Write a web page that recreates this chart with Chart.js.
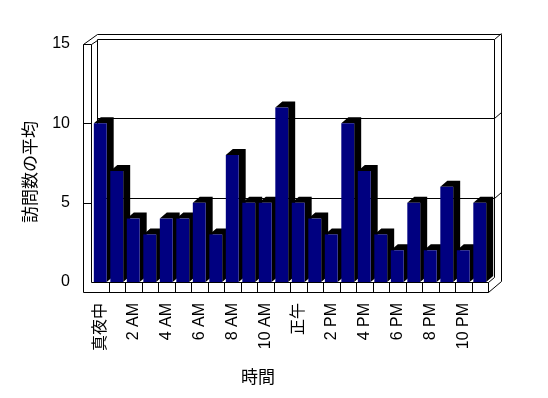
<!DOCTYPE html>
<html>
<head>
<meta charset="utf-8">
<script src="https://cdn.jsdelivr.net/npm/chart.js@4"></script>
<style>
  body { margin: 0; background: #fff; }
  canvas { display: block; }
</style>
</head>
<body>
<canvas id="chart" width="548" height="398"></canvas>
<script>
// hourly visit averages
const hours = ['真夜中', '1 AM', '2 AM', '3 AM', '4 AM', '5 AM', '6 AM', '7 AM', '8 AM', '9 AM', '10 AM', '11 AM',
  '正午', '1 PM', '2 PM', '3 PM', '4 PM', '5 PM', '6 PM', '7 PM', '8 PM', '9 PM', '10 PM', '11 PM'];
const visits = [10, 7, 4, 3, 4, 4, 5, 3, 8, 5, 5, 11, 5, 4, 3, 10, 7, 3, 2, 5, 2, 6, 2, 5];
const yTicks = [0, 5, 10, 15];
const xTitle = '時間';
const yTitle = '訪問数の平均';

const FONT = '"Liberation Sans", Arial, "Noto Sans CJK JP", sans-serif';
const DX = 7, DY = 6;   // bar depth

function px(v) { return Math.round(v) + 0.5; }

// walls, floor, gridlines and the dark sides of the bars
const frame3d = {
  id: 'frame3d',
  beforeDatasetsDraw(chart) {
    const ctx = chart.ctx, a = chart.chartArea, ys = chart.scales.y;
    const line = (x1, y1, x2, y2) => {
      ctx.beginPath();
      ctx.moveTo(px(x1), px(y1));
      ctx.lineTo(px(x2), px(y2));
      ctx.stroke();
    };
    const wallFront = a.left - 9, wallInner = a.left - 1, backLeft = a.left + 5;
    const backRight = a.right + 6, outerRight = a.right + 13;
    const floorBottom = a.bottom + 10, backTop = a.top - 10;

    ctx.save();
    ctx.strokeStyle = '#000';
    ctx.lineWidth = 1;

    // back wall gridlines
    yTicks.forEach(v => {
      const gy = ys.getPixelForValue(v) - 5;
      if (v > 0) {
        line(backLeft, gy, backRight, gy);
        line(backRight, gy, outerRight, gy - 6);
      }
      if (v > 0 && v < 15) {
        const fy = ys.getPixelForValue(v);
        line(wallFront, fy, wallInner, fy);
      }
    });

    // top edge
    line(backLeft, backTop, outerRight, backTop);
    line(wallFront, a.top, backLeft, backTop);
    line(wallFront, a.top, wallInner, a.top);
    line(wallInner, a.top, backLeft, a.top - 4);

    // left wall
    line(wallFront, a.top, wallFront, floorBottom);
    line(wallInner, a.top, wallInner, a.bottom);
    line(backLeft, a.top - 5, backLeft, a.bottom);

    // right wall
    line(backRight, a.top - 5, backRight, a.bottom - 5);
    line(outerRight, backTop, outerRight, a.bottom - 1);

    // floor
    line(wallFront, floorBottom, a.right, floorBottom);
    line(wallInner, a.bottom, a.right, a.bottom);
    line(a.right, a.bottom, a.right, floorBottom);
    line(a.right, floorBottom, outerRight, a.bottom - 1);
    line(a.right, a.bottom, backRight, a.bottom - 5);
    const step = (a.right - a.left) / hours.length;
    for (let k = 1; k < hours.length; k++) {
      const x = a.left + k * step;
      line(x, a.bottom, x, floorBottom);
    }

    // bar tops and sides
    ctx.fillStyle = '#000';
    chart.getDatasetMeta(0).data.forEach(bar => {
      const l = bar.x - bar.width / 2, r = bar.x + bar.width / 2;
      const t = bar.y, b = bar.base;
      ctx.beginPath();
      ctx.moveTo(l, t);
      ctx.lineTo(l + DX, t - DY);
      ctx.lineTo(r + DX, t - DY);
      ctx.lineTo(r + DX, b - DY);
      ctx.lineTo(r, b);
      ctx.lineTo(r, t);
      ctx.closePath();
      ctx.fill();
    });
    ctx.restore();
  },
  afterDraw(chart) {
    const ctx = chart.ctx;
    ctx.save();
    ctx.fillStyle = '#000';
    ctx.font = '17px "Noto Sans CJK JP", sans-serif';
    ctx.textAlign = 'center';
    ctx.textBaseline = 'middle';
    ctx.fillText(xTitle, 258, 377);
    ctx.translate(30, 172);
    ctx.rotate(-Math.PI / 2);
    ctx.fillText(yTitle, 0, 0);
    ctx.restore();
  }
};

new Chart(document.getElementById('chart'), {
  type: 'bar',
  data: {
    labels: hours,
    datasets: [{
      data: visits,
      backgroundColor: '#000080',
      borderWidth: 0,
      barPercentage: 0.78,
      categoryPercentage: 1
    }]
  },
  options: {
    responsive: false,
    animation: false,
    layout: { padding: { top: 44, right: 60, left: 0, bottom: 0 } },
    plugins: { legend: { display: false }, tooltip: { enabled: false } },
    scales: {
      x: {
        grid: { display: false, drawTicks: false },
        border: { display: false },
        afterFit(scale) { scale.height = 398 - 282; },
        ticks: {
          autoSkip: false,
          minRotation: 90,
          maxRotation: 90,
          padding: 21,
          color: '#000',
          font: { family: FONT, size: 16 },
          callback(value, index) { return index % 2 === 0 ? hours[index] : ''; }
        }
      },
      y: {
        min: 0,
        max: 15,
        grid: { display: false, drawTicks: false },
        border: { display: false },
        afterFit(scale) { scale.width = 92; },
        ticks: {
          stepSize: 5,
          padding: 22,
          color: '#000',
          font: { family: FONT, size: 16 }
        }
      }
    }
  },
  plugins: [frame3d]
});
</script>
</body>
</html>
